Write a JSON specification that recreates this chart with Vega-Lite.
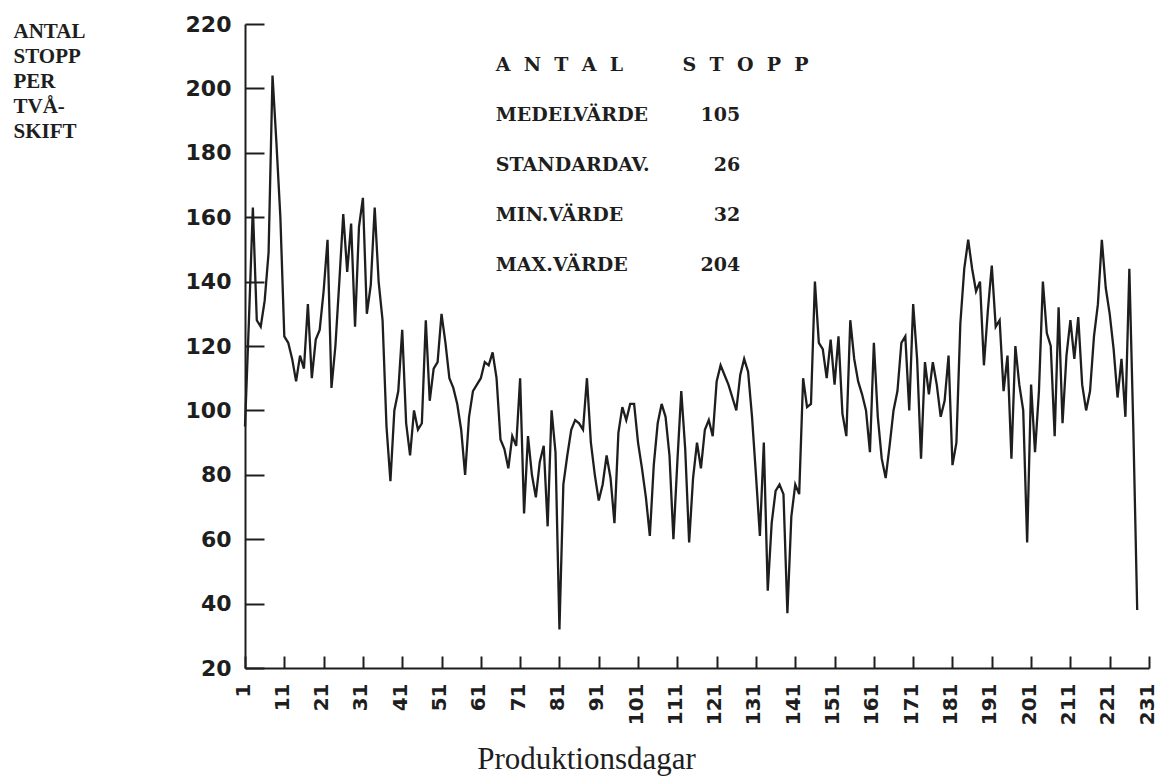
{
  "$schema": "https://vega.github.io/schema/vega-lite/v6.json",
  "width": 904,
  "height": 644,
  "autosize": {"type": "none"},
  "padding": {"left": 245, "top": 24, "right": 11, "bottom": 109},
  "background": "white",
  "config": {
    "view": {"stroke": null},
    "axis": {"grid": false, "domainColor": "#1e1e1e", "tickColor": "#1e1e1e", "labelColor": "#1e1e1e", "titleColor": "#1e1e1e", "domainWidth": 2, "tickWidth": 2}
  },
  "layer": [
    {
      "data": {"values": [
        {"dag":1,"stopp":95},{"dag":2,"stopp":128},{"dag":3,"stopp":163},{"dag":4,"stopp":128},{"dag":5,"stopp":126},{"dag":6,"stopp":134},{"dag":7,"stopp":149},{"dag":8,"stopp":204},{"dag":9,"stopp":183},{"dag":10,"stopp":160},
        {"dag":11,"stopp":123},{"dag":12,"stopp":121},{"dag":13,"stopp":116},{"dag":14,"stopp":109},{"dag":15,"stopp":117},{"dag":16,"stopp":113},{"dag":17,"stopp":133},{"dag":18,"stopp":110},{"dag":19,"stopp":122},{"dag":20,"stopp":125},
        {"dag":21,"stopp":137},{"dag":22,"stopp":153},{"dag":23,"stopp":107},{"dag":24,"stopp":120},{"dag":25,"stopp":140},{"dag":26,"stopp":161},{"dag":27,"stopp":143},{"dag":28,"stopp":158},{"dag":29,"stopp":126},{"dag":30,"stopp":157},
        {"dag":31,"stopp":166},{"dag":32,"stopp":130},{"dag":33,"stopp":139},{"dag":34,"stopp":163},{"dag":35,"stopp":140},{"dag":36,"stopp":128},{"dag":37,"stopp":95},{"dag":38,"stopp":78},{"dag":39,"stopp":100},{"dag":40,"stopp":106},
        {"dag":41,"stopp":125},{"dag":42,"stopp":96},{"dag":43,"stopp":86},{"dag":44,"stopp":100},{"dag":45,"stopp":94},{"dag":46,"stopp":96},{"dag":47,"stopp":128},{"dag":48,"stopp":103},{"dag":49,"stopp":113},{"dag":50,"stopp":115},
        {"dag":51,"stopp":130},{"dag":52,"stopp":121},{"dag":53,"stopp":110},{"dag":54,"stopp":107},{"dag":55,"stopp":102},{"dag":56,"stopp":94},{"dag":57,"stopp":80},{"dag":58,"stopp":98},{"dag":59,"stopp":106},{"dag":60,"stopp":108},
        {"dag":61,"stopp":110},{"dag":62,"stopp":115},{"dag":63,"stopp":114},{"dag":64,"stopp":118},{"dag":65,"stopp":110},{"dag":66,"stopp":91},{"dag":67,"stopp":88},{"dag":68,"stopp":82},{"dag":69,"stopp":92},{"dag":70,"stopp":89},
        {"dag":71,"stopp":110},{"dag":72,"stopp":68},{"dag":73,"stopp":92},{"dag":74,"stopp":80},{"dag":75,"stopp":73},{"dag":76,"stopp":84},{"dag":77,"stopp":89},{"dag":78,"stopp":64},{"dag":79,"stopp":100},{"dag":80,"stopp":87},
        {"dag":81,"stopp":32},{"dag":82,"stopp":77},{"dag":83,"stopp":86},{"dag":84,"stopp":94},{"dag":85,"stopp":97},{"dag":86,"stopp":96},{"dag":87,"stopp":94},{"dag":88,"stopp":110},{"dag":89,"stopp":90},{"dag":90,"stopp":80},
        {"dag":91,"stopp":72},{"dag":92,"stopp":77},{"dag":93,"stopp":86},{"dag":94,"stopp":79},{"dag":95,"stopp":65},{"dag":96,"stopp":93},{"dag":97,"stopp":101},{"dag":98,"stopp":97},{"dag":99,"stopp":102},{"dag":100,"stopp":102},
        {"dag":101,"stopp":90},{"dag":102,"stopp":82},{"dag":103,"stopp":73},{"dag":104,"stopp":61},{"dag":105,"stopp":83},{"dag":106,"stopp":96},{"dag":107,"stopp":102},{"dag":108,"stopp":98},{"dag":109,"stopp":86},{"dag":110,"stopp":60},
        {"dag":111,"stopp":84},{"dag":112,"stopp":106},{"dag":113,"stopp":88},{"dag":114,"stopp":59},{"dag":115,"stopp":79},{"dag":116,"stopp":90},{"dag":117,"stopp":82},{"dag":118,"stopp":94},{"dag":119,"stopp":97},{"dag":120,"stopp":92},
        {"dag":121,"stopp":109},{"dag":122,"stopp":114},{"dag":123,"stopp":111},{"dag":124,"stopp":108},{"dag":125,"stopp":104},{"dag":126,"stopp":100},{"dag":127,"stopp":111},{"dag":128,"stopp":116},{"dag":129,"stopp":112},{"dag":130,"stopp":98},
        {"dag":131,"stopp":80},{"dag":132,"stopp":61},{"dag":133,"stopp":90},{"dag":134,"stopp":44},{"dag":135,"stopp":65},{"dag":136,"stopp":75},{"dag":137,"stopp":77},{"dag":138,"stopp":74},{"dag":139,"stopp":37},{"dag":140,"stopp":67},
        {"dag":141,"stopp":77},{"dag":142,"stopp":74},{"dag":143,"stopp":110},{"dag":144,"stopp":101},{"dag":145,"stopp":102},{"dag":146,"stopp":140},{"dag":147,"stopp":121},{"dag":148,"stopp":119},{"dag":149,"stopp":110},{"dag":150,"stopp":122},
        {"dag":151,"stopp":108},{"dag":152,"stopp":123},{"dag":153,"stopp":99},{"dag":154,"stopp":92},{"dag":155,"stopp":128},{"dag":156,"stopp":116},{"dag":157,"stopp":109},{"dag":158,"stopp":105},{"dag":159,"stopp":100},{"dag":160,"stopp":87},
        {"dag":161,"stopp":121},{"dag":162,"stopp":98},{"dag":163,"stopp":85},{"dag":164,"stopp":79},{"dag":165,"stopp":89},{"dag":166,"stopp":100},{"dag":167,"stopp":106},{"dag":168,"stopp":121},{"dag":169,"stopp":123},{"dag":170,"stopp":100},
        {"dag":171,"stopp":133},{"dag":172,"stopp":116},{"dag":173,"stopp":85},{"dag":174,"stopp":115},{"dag":175,"stopp":105},{"dag":176,"stopp":115},{"dag":177,"stopp":108},{"dag":178,"stopp":98},{"dag":179,"stopp":103},{"dag":180,"stopp":117},
        {"dag":181,"stopp":83},{"dag":182,"stopp":90},{"dag":183,"stopp":127},{"dag":184,"stopp":144},{"dag":185,"stopp":153},{"dag":186,"stopp":144},{"dag":187,"stopp":137},{"dag":188,"stopp":140},{"dag":189,"stopp":114},{"dag":190,"stopp":131},
        {"dag":191,"stopp":145},{"dag":192,"stopp":126},{"dag":193,"stopp":128},{"dag":194,"stopp":106},{"dag":195,"stopp":117},{"dag":196,"stopp":85},{"dag":197,"stopp":120},{"dag":198,"stopp":108},{"dag":199,"stopp":100},{"dag":200,"stopp":59},
        {"dag":201,"stopp":108},{"dag":202,"stopp":87},{"dag":203,"stopp":106},{"dag":204,"stopp":140},{"dag":205,"stopp":124},{"dag":206,"stopp":120},{"dag":207,"stopp":92},{"dag":208,"stopp":132},{"dag":209,"stopp":96},{"dag":210,"stopp":117},
        {"dag":211,"stopp":128},{"dag":212,"stopp":116},{"dag":213,"stopp":129},{"dag":214,"stopp":108},{"dag":215,"stopp":100},{"dag":216,"stopp":106},{"dag":217,"stopp":123},{"dag":218,"stopp":133},{"dag":219,"stopp":153},{"dag":220,"stopp":138},
        {"dag":221,"stopp":130},{"dag":222,"stopp":119},{"dag":223,"stopp":104},{"dag":224,"stopp":116},{"dag":225,"stopp":98},{"dag":226,"stopp":144},{"dag":227,"stopp":95},{"dag":228,"stopp":38}
      ]},
      "mark": {"type": "line", "color": "#1e1e1e", "strokeWidth": 2.3},
      "encoding": {
        "x": {
          "field": "dag", "type": "quantitative",
          "scale": {"domain": [1, 231], "nice": false, "zero": false},
          "axis": {
            "values": [1, 11, 21, 31, 41, 51, 61, 71, 81, 91, 101, 111, 121, 131, 141, 151, 161, 171, 181, 191, 201, 211, 221, 231],
            "tickCount": 40,
            "labelAngle": -90, "labelFont": "DejaVu Sans", "labelFontSize": 20, "labelFontWeight": "bold",
            "labelOverlap": false, "labelFlush": false, "labelOffset": -2,
            "tickSize": -12, "labelPadding": 27,
            "title": "Produktionsdagar", "titleFont": "Liberation Serif", "titleFontSize": 31, "titleFontWeight": "normal",
            "titleAlign": "center", "titleBaseline": "alphabetic", "titleX": 341, "titleY": 100
          }
        },
        "y": {
          "field": "stopp", "type": "quantitative",
          "scale": {"domain": [20, 220], "nice": false, "zero": false},
          "axis": {
            "values": [20, 40, 60, 80, 100, 120, 140, 160, 180, 200, 220],
            "tickCount": 20,
            "labelFont": "DejaVu Sans", "labelFontSize": 22, "labelFontWeight": "bold",
            "labelOverlap": false, "labelFlush": false,
            "tickSize": -19, "labelPadding": 33,
            "title": ["ANTAL", "STOPP", "PER", "TVÅ-", "SKIFT"],
            "titleFont": "Liberation Serif", "titleFontSize": 21, "titleFontWeight": "bold",
            "titleAngle": 0, "titleAlign": "left", "titleBaseline": "top", "titleLineHeight": 25,
            "titleX": -232, "titleY": -4
          }
        }
      }
    },
    {
      "data": {"values": [
        {"t": "A\u00a0\u00a0N\u00a0\u00a0T\u00a0\u00a0A\u00a0\u00a0L\u00a0\u00a0\u00a0\u00a0\u00a0\u00a0\u00a0\u00a0\u00a0S\u00a0\u00a0T\u00a0\u00a0O\u00a0\u00a0P\u00a0\u00a0P", "dag": 64.8, "stopp": 207.3},
        {"t": "MEDELVÄRDE", "dag": 64.8, "stopp": 191.7},
        {"t": "STANDARDAV.", "dag": 64.8, "stopp": 176.2},
        {"t": "MIN.VÄRDE", "dag": 64.8, "stopp": 160.7},
        {"t": "MAX.VÄRDE", "dag": 64.8, "stopp": 145.2}
      ]},
      "mark": {"type": "text", "align": "left", "baseline": "middle", "font": "DejaVu Serif", "fontWeight": "bold", "fontSize": 19, "color": "#1e1e1e"},
      "encoding": {
        "x": {"field": "dag", "type": "quantitative"},
        "y": {"field": "stopp", "type": "quantitative"},
        "text": {"field": "t"}
      }
    },
    {
      "data": {"values": [
        {"t": "105", "dag": 127, "stopp": 191.7},
        {"t": "26", "dag": 127, "stopp": 176.2},
        {"t": "32", "dag": 127, "stopp": 160.7},
        {"t": "204", "dag": 127, "stopp": 145.2}
      ]},
      "mark": {"type": "text", "align": "right", "baseline": "middle", "font": "DejaVu Serif", "fontWeight": "bold", "fontSize": 19, "color": "#1e1e1e"},
      "encoding": {
        "x": {"field": "dag", "type": "quantitative"},
        "y": {"field": "stopp", "type": "quantitative"},
        "text": {"field": "t"}
      }
    }
  ]
}
